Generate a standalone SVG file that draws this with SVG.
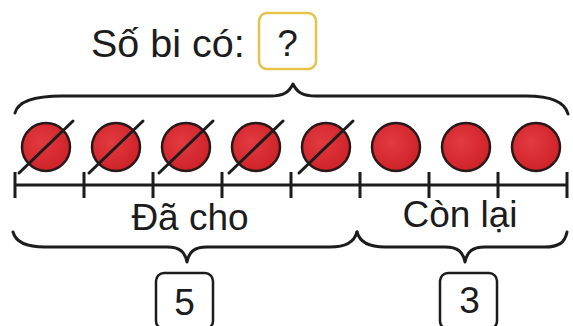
<svg xmlns="http://www.w3.org/2000/svg" width="573" height="326" viewBox="0 0 573 326">
<defs>
<style>
.t{font-family:"Liberation Sans",Arial,sans-serif;font-size:37px;fill:#1c1c1c}
.br{fill:none;stroke:#1c1c1c;stroke-width:3;stroke-linecap:round;stroke-linejoin:round}
.ball{fill:url(#rg);stroke:#2a1818;stroke-width:2.5}
.slash{stroke:#1c1c1c;stroke-width:3;stroke-linecap:round}
.ax{stroke:#1c1c1c;stroke-width:3;fill:none}
.box{fill:#fff;stroke:#1c1c1c;stroke-width:2.5}
</style>
<radialGradient id="rg" cx="0.4" cy="0.4" r="0.7">
<stop offset="0" stop-color="#e23a40"/>
<stop offset="1" stop-color="#cc1f26"/>
</radialGradient>
</defs>
<rect width="573" height="326" fill="#fff"/>

<g id="title">
<text class="t" x="91" y="57" style="font-size:39.5px">Số bi có:</text>
</g>
<g id="total-box">
<rect x="259" y="13" width="57" height="56" rx="8" fill="#fff" stroke="#e5c24c" stroke-width="2.5"/>
<text class="t" x="287.5" y="56" text-anchor="middle">?</text>
</g>

<g id="connectors">
<path class="br" d="M15,113 C18,101 35,96 62,96 L270,96 C284,96 289,92 293,84 C297,92 302,96 316,96 L526,96 C550,96 565,102 568,114"/>
<path class="br" d="M13,232 C16,243 28,247 45,247 L167,247 C180,247 185,252 187,262 C189,252 194,247 207,247 L330,247 C345,247 354,243 357,232"/>
<path class="br" d="M357,232 C360,243 370,247 385,247 L445,247 C458,247 463,252 465,262 C467,252 472,247 485,247 L545,247 C558,247 565,243 567,232"/>
</g>

<g id="balls">
<circle class="ball" cx="46" cy="147" r="24"/>
<circle class="ball" cx="116" cy="147" r="24"/>
<circle class="ball" cx="186" cy="147" r="24"/>
<circle class="ball" cx="256" cy="147" r="24"/>
<circle class="ball" cx="326" cy="147" r="24"/>
<circle class="ball" cx="396" cy="147" r="24"/>
<circle class="ball" cx="466" cy="147" r="24"/>
<circle class="ball" cx="536" cy="147" r="24"/>
<line class="slash" x1="19" y1="173" x2="73" y2="121"/>
<line class="slash" x1="89" y1="173" x2="143" y2="121"/>
<line class="slash" x1="159" y1="173" x2="213" y2="121"/>
<line class="slash" x1="229" y1="173" x2="283" y2="121"/>
<line class="slash" x1="299" y1="173" x2="353" y2="121"/>
</g>

<g id="number-line">
<line class="ax" x1="15" y1="185" x2="567" y2="185"/>
<path class="ax" d="M15,172V198 M84,172V198 M153,172V198 M222,172V198 M291,172V198 M360,172V198 M429,172V198 M498,172V198 M567,172V198"/>
</g>

<g id="label-given">
<text class="t" x="190" y="230" text-anchor="middle">Đã cho</text>
</g>
<g id="label-left">
<text class="t" x="460" y="227" text-anchor="middle">Còn lại</text>
</g>

<g id="box-5">
<rect class="box" x="156" y="273" width="57" height="56" rx="8"/>
<text class="t" x="184.5" y="315" text-anchor="middle">5</text>
</g>
<g id="box-3">
<rect class="box" x="440" y="273" width="57" height="56" rx="8"/>
<text class="t" x="469.5" y="313" text-anchor="middle">3</text>
</g>
</svg>
